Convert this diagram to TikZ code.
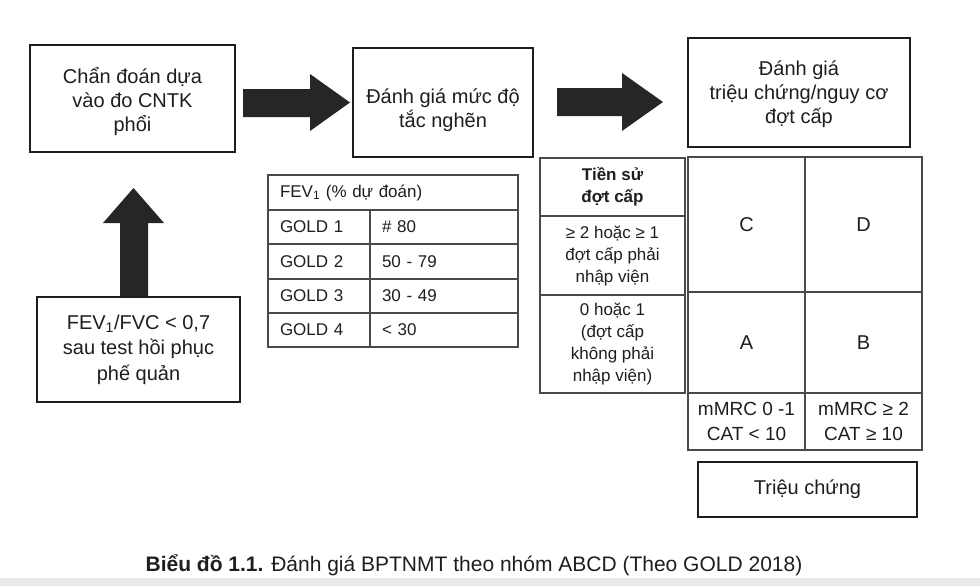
\documentclass[tikz,border=0pt]{standalone}
\usepackage{fontspec}
\setmainfont{Liberation Sans}
\definecolor{ink}{HTML}{1E1E1E}
\definecolor{tline}{HTML}{4A4A4A}
\definecolor{arrowfill}{HTML}{262626}
\definecolor{band}{HTML}{E9E9E9}
\begin{document}
\begin{tikzpicture}[x=1pt,y=-1pt,
  bigbox/.style={draw=ink,line width=2.6pt,inner sep=0pt,align=center,text=ink,
    font=\fontsize{20}{24}\selectfont},
  boxtext/.style={inner sep=0pt,align=center,text=ink,font=\fontsize{20}{24}\selectfont},
  cellL/.style={draw=tline,line width=1.1pt,inner xsep=12pt,inner ysep=0pt,align=left,
    text=ink,font=\fontsize{17}{21}\selectfont},
  cellC/.style={draw=tline,line width=1.1pt,inner sep=0pt,align=center,text=ink,
    font=\fontsize{17}{22}\selectfont},
  letter/.style={cellC,font=\fontsize{20}{24}\selectfont},
  scorecell/.style={cellC,font=\fontsize{19}{25}\selectfont},
  blockarrow/.style={fill=arrowfill,draw=none}]
\useasboundingbox (0,0) rectangle (980,586);
\fill[white] (0,0) rectangle (980,586);
\fill[band] (0,578) rectangle (980,586);

% main boxes
\node[bigbox,minimum width=205pt,minimum height=107pt] (b1) at (132.5,98.5) {};
\node[boxtext] (b1t) at ([yshift=-3pt]b1.center) {Chẩn đoán dựa\\vào đo CNTK\\phổi};
\node[bigbox,minimum width=180pt,minimum height=109pt] (b2) at (443,102.5) {};
\node[boxtext] (b2t) at ([yshift=-8pt]b2.center) {Đánh giá mức độ\\tắc nghẽn};
\node[bigbox,minimum width=222pt,minimum height=109pt] (b3) at (799,92.5) {};
\node[boxtext] (b3t) at ([yshift=-2pt]b3.center) {Đánh giá\\triệu chứng/nguy cơ\\đợt cấp};
\node[bigbox,minimum width=203pt,minimum height=105pt,font=\fontsize{20}{25.5}\selectfont]
  (b4) at (138.5,349.5)
  {FEV\textsubscript{1}/FVC < 0,7\\sau test hồi phục\\phế quản};
\node[bigbox,minimum width=219pt,minimum height=55pt] (b5) at (807.5,489.5)
  {Triệu chứng};

% block arrows
\fill[blockarrow] (243,89) -- (310,89) -- (310,74) -- (350,102.5) -- (310,131)
  -- (310,117) -- (243,117) -- cycle;
\fill[blockarrow] (557,88) -- (622,88) -- (622,73) -- (663,102) -- (622,131)
  -- (622,116) -- (557,116) -- cycle;
\fill[blockarrow] (120,296) -- (120,223) -- (103,223) -- (133.5,188) -- (164,223)
  -- (148,223) -- (148,296) -- cycle;

% FEV1 table
\node[cellL,text width=226pt,minimum height=35pt] (fh) at (393,192.5)
  {FEV\textsubscript{1} (\% dự đoán)};
\node[cellL,text width=78pt,minimum height=34pt] (g1a) at (319,227) {GOLD 1};
\node[cellL,text width=124pt,minimum height=34pt] (g1b) at (444,227) {\# 80};
\node[cellL,text width=78pt,minimum height=35pt] (g2a) at (319,261.5) {GOLD 2};
\node[cellL,text width=124pt,minimum height=35pt] (g2b) at (444,261.5) {50 - 79};
\node[cellL,text width=78pt,minimum height=34pt] (g3a) at (319,296) {GOLD 3};
\node[cellL,text width=124pt,minimum height=34pt] (g3b) at (444,296) {30 - 49};
\node[cellL,text width=78pt,minimum height=34pt] (g4a) at (319,330) {GOLD 4};
\node[cellL,text width=124pt,minimum height=34pt] (g4b) at (444,330) {< 30};

% exacerbation history table
\node[cellC,minimum width=145pt,minimum height=58pt] (ts0) at (612.5,187)
  {\bfseries Tiền sử\\\bfseries đợt cấp};
\node[cellC,minimum width=145pt,minimum height=79pt] (ts1) at (612.5,255.5)
  {≥ 2 hoặc ≥ 1\\đợt cấp phải\\nhập viện};
\node[cellC,minimum width=145pt,minimum height=98pt] (ts2) at (612.5,344)
  {0 hoặc 1\\(đợt cấp\\không phải\\nhập viện)};

% ABCD grid
\node[letter,minimum width=117pt,minimum height=135pt] (gC) at (746.5,224.5) {C};
\node[letter,minimum width=117pt,minimum height=135pt] (gD) at (863.5,224.5) {D};
\node[letter,minimum width=117pt,minimum height=101pt] (gA) at (746.5,342.5) {A};
\node[letter,minimum width=117pt,minimum height=101pt] (gB) at (863.5,342.5) {B};
\node[scorecell,minimum width=117pt,minimum height=57pt] (m1) at (746.5,421.5)
  {mMRC 0 -1\\CAT < 10};
\node[scorecell,minimum width=117pt,minimum height=57pt] (m2) at (863.5,421.5)
  {mMRC ≥ 2\\CAT ≥ 10};

% caption
\node[text=ink,font=\fontsize{21}{25}\selectfont,inner sep=0pt] (cap) at (474,565)
  {\textbf{Biểu đồ 1.1.} Đánh giá BPTNMT theo nhóm ABCD (Theo GOLD 2018)};
\end{tikzpicture}
\end{document}
